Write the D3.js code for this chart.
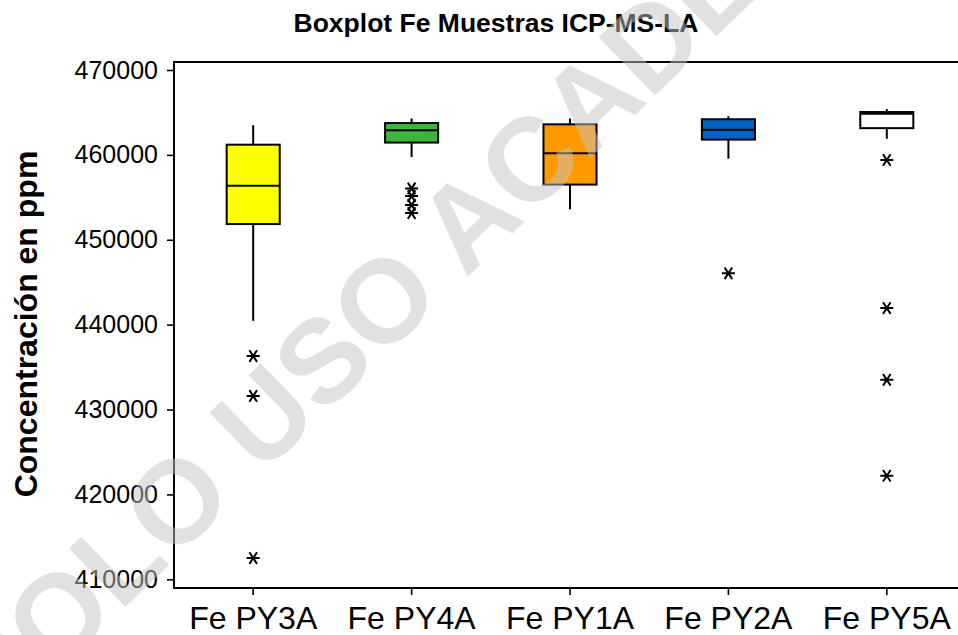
<!DOCTYPE html>
<html>
<head>
<meta charset="utf-8">
<script src="https://cdn.jsdelivr.net/npm/d3@7"></script>
<style>
  html, body { margin: 0; padding: 0; background: #fff; }
  svg { display: block; font-family: Arial, "Liberation Sans", Helvetica, sans-serif; }
</style>
</head>
<body>
<svg id="chart" width="958" height="635"></svg>
<script>
// ---- data ----
const categories = ["Fe PY3A", "Fe PY4A", "Fe PY1A", "Fe PY2A", "Fe PY5A"];
const colors     = ["#ffff00", "#3db53d", "#ff9900", "#0064c8", "#ffffff"];
const whiskerLow = [440450, 459750, 453600, 459550, 461900];
const q1Values   = [451850, 461450, 456500, 461800, 463150];
const medians    = [456350, 462900, 460200, 462950, 464850];
const q3Values   = [461200, 463750, 463600, 464200, 465050];
const whiskerHigh= [463500, 464300, 464300, 464550, 465400];
const outliers   = [
  [436300, 431600, 412500],
  [456050, 455150, 454100, 453150],
  [],
  [446050],
  [459400, 441950, 433500, 422200]
];
const yTicks = [410000, 420000, 430000, 440000, 450000, 460000, 470000];
const title = "Boxplot Fe Muestras ICP-MS-LA";
const yLabel = "Concentración en ppm";
const watermark = "SOLO USO ACADÉMICO";

// ---- layout ----
const frame = { left: 174, top: 62, right: 966, bottom: 588 };
const svg = d3.select("#chart");

const x = d3.scaleBand().domain(categories).range([frame.left, frame.right]).padding(0);
const y = d3.scaleLinear().domain([410000, 470000]).range([579.3, 70]);
const boxW = x.bandwidth() * 0.335;
const cx = c => x(c) + x.bandwidth() / 2;

// frame
svg.append("path")
  .attr("d", `M${frame.right},${frame.top}H${frame.left}V${frame.bottom}H${frame.right}`)
  .attr("fill", "none").attr("stroke", "#000").attr("stroke-width", 2);

// y axis
const yAxis = d3.axisLeft(y).tickValues(yTicks).tickSize(7).tickPadding(9).tickFormat(d3.format("d"));
const gy = svg.append("g").attr("transform", `translate(${frame.left},0)`).call(yAxis);
gy.select(".domain").remove();
gy.selectAll(".tick line").attr("stroke", "#000").attr("stroke-width", 1.6);
gy.selectAll(".tick text").attr("font-size", 25).attr("fill", "#000")
  .attr("font-family", "Arial, 'Liberation Sans', sans-serif");

// x axis
const xAxis = d3.axisBottom(x).tickSize(7).tickPadding(11);
const gx = svg.append("g").attr("transform", `translate(0,${frame.bottom})`).call(xAxis);
gx.select(".domain").remove();
gx.selectAll(".tick line").attr("stroke", "#000").attr("stroke-width", 1.6);
gx.selectAll(".tick text").attr("font-size", 32).attr("fill", "#000")
  .attr("font-family", "Arial, 'Liberation Sans', sans-serif");

// boxes
const data = categories.map((c, i) => ({
  c, color: colors[i], lo: whiskerLow[i], q1: q1Values[i], med: medians[i],
  q3: q3Values[i], hi: whiskerHigh[i], out: outliers[i]
}));

const g = svg.append("g");
data.forEach(d => {
  const xc = cx(d.c);
  g.append("line").attr("x1", xc).attr("x2", xc).attr("y1", y(d.hi)).attr("y2", y(d.q3))
    .attr("stroke", "#000").attr("stroke-width", 2);
  g.append("line").attr("x1", xc).attr("x2", xc).attr("y1", y(d.q1)).attr("y2", y(d.lo))
    .attr("stroke", "#000").attr("stroke-width", 2);
  g.append("rect").attr("x", xc - boxW / 2).attr("width", boxW)
    .attr("y", y(d.q3)).attr("height", y(d.q1) - y(d.q3))
    .attr("fill", d.color).attr("stroke", "#000").attr("stroke-width", 2);
  g.append("line").attr("x1", xc - boxW / 2).attr("x2", xc + boxW / 2)
    .attr("y1", y(d.med)).attr("y2", y(d.med))
    .attr("stroke", "#000").attr("stroke-width", 2);
  const r = 6.5, dx = 3.8, dy = 5.8;
  d.out.forEach(v => {
    const yy = y(v);
    g.append("path")
      .attr("d", `M${xc - r},${yy}H${xc + r}M${xc - dx},${yy - dy}L${xc + dx},${yy + dy}M${xc + dx},${yy - dy}L${xc - dx},${yy + dy}`)
      .attr("stroke", "#000").attr("stroke-width", 2).attr("fill", "none");
  });
});

// title
svg.append("text").attr("x", 496).attr("y", 32).attr("text-anchor", "middle")
  .attr("font-size", 26.5).attr("font-weight", "bold").attr("fill", "#000").text(title);

// y label
svg.append("text").attr("transform", `translate(37,324) rotate(-90)`)
  .attr("text-anchor", "middle").attr("font-size", 32).attr("font-weight", "bold")
  .attr("fill", "#000").text(yLabel);

// watermark
svg.append("text").attr("transform", `translate(-3,731) rotate(-44)`)
  .attr("font-size", 118).attr("font-weight", "bold")
  .attr("fill", "#c4c4c4").attr("fill-opacity", 0.5).text(watermark);
</script>
</body>
</html>
